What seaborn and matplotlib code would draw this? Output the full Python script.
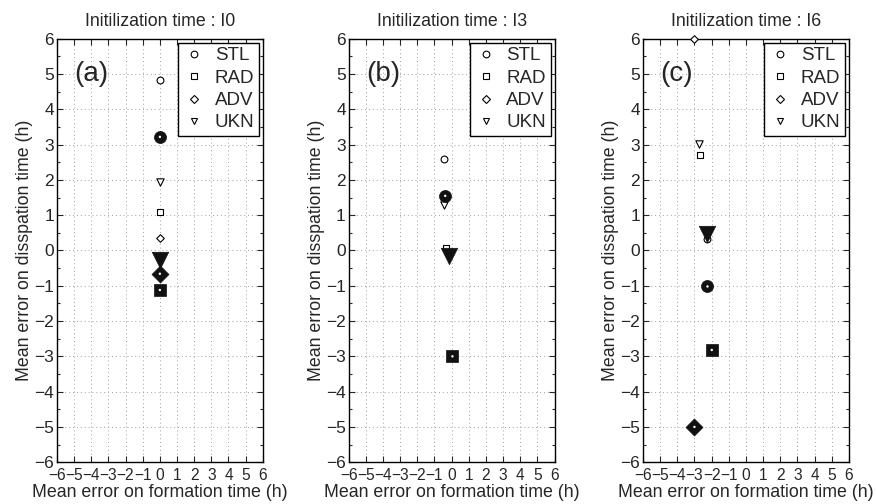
import pandas as pd
import seaborn as sns
import matplotlib.pyplot as plt
from matplotlib.lines import Line2D
from matplotlib.ticker import MultipleLocator

## DATA ##
panels = ["a", "b", "c"]
titles = ["Initilization time : I0", "Initilization time : I3", "Initilization time : I6"]
types = ["STL", "RAD", "ADV", "UKN"]

# open symbols (per panel, order STL, RAD, ADV, UKN; None = not shown)
open_x = {"a": [0.0, 0.0, 0.0, 0.0],
          "b": [-0.44, -0.3, None, -0.44],
          "c": [-2.26, -2.66, -3.0, -2.74]}
open_y = {"a": [4.83, 1.1, 0.35, 1.93],
          "b": [2.6, 0.08, None, 1.28],
          "c": [0.32, 2.7, 6.0, 3.03]}

# filled (bold) symbols
fill_x = {"a": [0.0, 0.0, 0.0, 0.0],
          "b": [-0.37, 0.05, None, -0.15],
          "c": [-2.24, -1.99, -3.0, -2.28]}
fill_y = {"a": [3.22, -1.12, -0.66, -0.28],
          "b": [1.55, -3.0, None, -0.15],
          "c": [-1.02, -2.82, -5.0, 0.47]}

# build long table
rows = []
for p in panels:
    for i, t in enumerate(types):
        if open_x[p][i] is not None:
            rows.append((p, t, "open", open_x[p][i], open_y[p][i]))
        if fill_x[p][i] is not None:
            rows.append((p, t, "fill", fill_x[p][i], fill_y[p][i]))
df = pd.DataFrame(rows, columns=["panel", "type", "kind", "x", "y"])

sns.set_style("ticks")
plt.rcParams['font.family'] = ['Liberation Sans', 'DejaVu Sans']
plt.rcParams['axes.unicode_minus'] = True

markers = {"STL": "o", "RAD": "s", "ADV": "D", "UKN": "v"}
open_size = {"STL": 24, "RAD": 18, "ADV": 15, "UKN": 28}
fill_size = {"STL": 75, "RAD": 70, "ADV": 75, "UKN": 140}
FS = 12.8

fig = plt.figure(figsize=(8.76, 5.04), dpi=100)
lefts = [0.065, 0.398, 0.734]

for k, p in enumerate(panels):
    ax = fig.add_axes([lefts[k], 0.083, 0.235, 0.840])
    sub = df[df.panel == p]
    for t in types:
        o = sub[(sub.type == t) & (sub.kind == "open")]
        f = sub[(sub.type == t) & (sub.kind == "fill")]
        if len(o):
            sns.scatterplot(data=o, x="x", y="y", marker=markers[t], s=open_size[t],
                            facecolor="white", edgecolor="black", linewidth=0.8,
                            ax=ax, zorder=3, clip_on=False)
        if len(f):
            sns.scatterplot(data=f, x="x", y="y", marker=markers[t], s=fill_size[t],
                            color="#111111", edgecolor="#111111", linewidth=0.5,
                            ax=ax, zorder=4)
            if t != "UKN":
                # small white centre of the bold symbols
                sns.scatterplot(data=f, x="x", y="y", marker="o", s=3,
                                color="white", edgecolor="none", ax=ax, zorder=5)

    ax.set_xlim(-6, 6)
    ax.set_ylim(-6, 6)
    ax.xaxis.set_major_locator(MultipleLocator(1))
    ax.yaxis.set_major_locator(MultipleLocator(1))
    ax.yaxis.set_minor_locator(MultipleLocator(0.5))
    ax.tick_params(which="both", direction="in", top=True, right=True, width=0.8)
    ax.tick_params(axis="y", labelsize=12.5, pad=2)
    ax.tick_params(axis="x", labelsize=11.2, pad=4)
    ax.tick_params(which="major", length=4)
    ax.tick_params(which="minor", length=2.5)
    ax.grid(True, which="major", color="#a0a0a0", linestyle=(0, (1, 3)), linewidth=0.7)
    for s in ax.spines.values():
        s.set_linewidth(1.0)
        s.set_color("black")
    ax.set_title(titles[k], fontsize=FS, pad=9)
    ax.set_xlabel("Mean error on formation time (h)", fontsize=FS, labelpad=1)
    ax.set_ylabel("Mean error on disspation time (h)", fontsize=FS, labelpad=1)
    ax.text(-5.0, 5.0, "(" + p + ")", fontsize=20, ha="left", va="center")

    handles = [Line2D([], [], linestyle="none", marker=markers[t], markersize=4.8 if t != "ADV" else 4.2,
                      markerfacecolor="white", markeredgecolor="black", markeredgewidth=0.8)
               for t in types]
    leg = ax.legend(handles, types, loc="upper right", fontsize=13.5, frameon=True,
                    fancybox=False, edgecolor="black", framealpha=1, borderaxespad=0.2,
                    handlelength=1.2, handletextpad=0.5, labelspacing=0.28, borderpad=0.25)
    leg.get_frame().set_linewidth(1.0)

fig.savefig("out.png", dpi=100)
